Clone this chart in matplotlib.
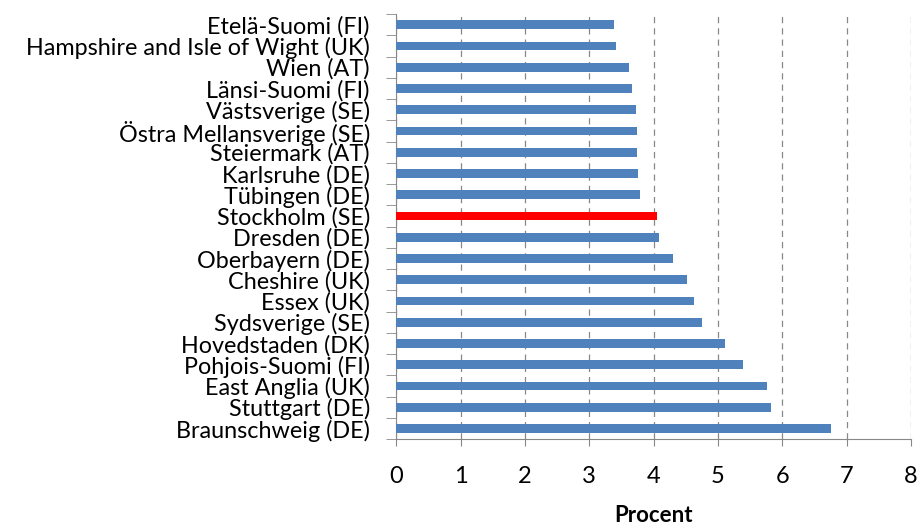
import numpy as np
import matplotlib
matplotlib.use("Agg")
import matplotlib.pyplot as plt

plt.rcParams['font.family'] = ['Lato', 'DejaVu Sans']

regions = ['Etelä-Suomi (FI)', 'Hampshire and Isle of Wight (UK)', 'Wien (AT)',
           'Länsi-Suomi (FI)', 'Västsverige (SE)', 'Östra Mellansverige (SE)',
           'Steiermark (AT)', 'Karlsruhe (DE)', 'Tübingen (DE)', 'Stockholm (SE)',
           'Dresden (DE)', 'Oberbayern (DE)', 'Cheshire (UK)', 'Essex (UK)',
           'Sydsverige (SE)', 'Hovedstaden (DK)', 'Pohjois-Suomi (FI)',
           'East Anglia (UK)', 'Stuttgart (DE)', 'Braunschweig (DE)']
values = [3.39, 3.42, 3.62, 3.66, 3.73, 3.74, 3.74, 3.76, 3.79, 4.05,
          4.08, 4.30, 4.52, 4.63, 4.75, 5.11, 5.39, 5.76, 5.82, 6.75]
highlight = 'Stockholm (SE)'

fig = plt.figure(figsize=(9.17, 5.24), dpi=100)
ax = fig.add_axes([0.432, 0.162, 0.5615, 0.811])

n = len(regions)
pos = np.arange(n)
colors = ['#FF0000' if r == highlight else '#4F81BD' for r in regions]
ax.barh(pos, values, height=0.42, color=colors, zorder=3)

ax.set_ylim(n - 0.5, -0.5)
ax.set_xlim(0, 8)
ax.set_yticks(pos)
ax.set_yticklabels(regions, fontsize=16.8)
ax.tick_params(axis='y', which='major', length=0, pad=19)
# tick marks sit between the categories, as in the original
ax.set_yticks(np.arange(n + 1) - 0.5, minor=True)
ax.tick_params(axis='y', which='minor', length=7, color='#888888', direction='out')

ax.set_xticks(range(9))
ax.tick_params(axis='x', length=5, color='#888888', labelsize=17, pad=14)
ax.grid(axis='x', color='#888888', linestyle=(0, (5, 4)), linewidth=0.9, zorder=0)

for s in ['top', 'right']:
    ax.spines[s].set_visible(False)
for s in ['left', 'bottom']:
    ax.spines[s].set_color('#888888')

ax.set_xlabel('Procent', fontsize=16, fontweight='bold', labelpad=13)

fig.savefig('out.png', dpi=100)
